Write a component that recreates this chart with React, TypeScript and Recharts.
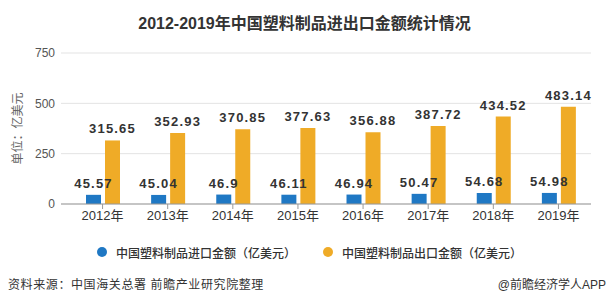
import { BarChart, Bar, XAxis, YAxis, CartesianGrid, LabelList } from 'recharts';

const years = ['2012年', '2013年', '2014年', '2015年', '2016年', '2017年', '2018年', '2019年'];
const importValues = [45.57, 45.04, 46.9, 46.11, 46.94, 50.47, 54.68, 54.98];
const exportValues = [315.65, 352.93, 370.85, 377.63, 356.88, 387.72, 434.52, 483.14];
const yTicks = [0, 250, 500, 750];

const IMPORT_NAME = '中国塑料制品进口金额（亿美元）';
const EXPORT_NAME = '中国塑料制品出口金额（亿美元）';
const BLUE = '#1f78c4';
const ORANGE = '#efab27';
const FONT = '"Liberation Sans", "Noto Sans CJK SC", sans-serif';

const data = years.map((year, i) => ({
  year,
  imp: importValues[i],
  exp: exportValues[i],
}));

function YUnitLabel(props: any) {
  const vb = props.viewBox || {};
  const cx = 18;
  const cy = vb.y + vb.height / 2;
  return (
    <text
      x={cx}
      y={cy}
      transform={`rotate(-90 ${cx} ${cy})`}
      textAnchor="middle"
      dominantBaseline="central"
      fill="#666"
      fontSize={12}
      fontFamily={FONT}
    >
      单位：亿美元
    </text>
  );
}

function LegendRow() {
  const items = [
    { name: IMPORT_NAME, color: BLUE },
    { name: EXPORT_NAME, color: ORANGE },
  ];
  return (
    <div
      style={{
        position: 'absolute',
        top: 243,
        left: 0,
        width: 609,
        display: 'flex',
        justifyContent: 'center',
        gap: 27,
        paddingLeft: 10,
        boxSizing: 'border-box',
      }}
    >
      {items.map((it) => (
        <div key={it.name} style={{ display: 'flex', alignItems: 'center', height: 18 }}>
          <span
            style={{
              width: 10,
              height: 10,
              borderRadius: 5,
              background: it.color,
              display: 'inline-block',
              marginRight: 9,
            }}
          />
          <span style={{ fontSize: 12, color: '#333', fontFamily: FONT, fontWeight: 500 }}>{it.name}</span>
        </div>
      ))}
    </div>
  );
}

const valueLabelStyle = {
  fontSize: 13,
  fontWeight: 700,
  fill: '#333',
  letterSpacing: 1.2,
  fontFamily: FONT,
};

export default function App() {
  return (
    <div
      style={{
        position: 'absolute',
        left: 0,
        top: 0,
        width: 609,
        height: 304,
        background: '#fff',
        fontFamily: FONT,
      }}
    >
      <div
        style={{
          position: 'absolute',
          top: 10,
          left: 0,
          width: 609,
          textAlign: 'center',
          fontSize: 16,
          fontWeight: 700,
          color: '#333',
        }}
      >
        2012-2019年中国塑料制品进出口金额统计情况
      </div>

      <BarChart
        width={609}
        height={304}
        data={data}
        margin={{ top: 53, right: 18, bottom: 70, left: 0 }}
        barSize={15}
        barGap={4}
      >
        <CartesianGrid vertical={false} stroke="#e3e3e3" />
        <XAxis
          dataKey="year"
          height={30}
          padding={{ left: 9, right: 0 }}
          axisLine={{ stroke: '#999' }}
          tickLine={{ stroke: '#999' }}
          tickSize={5}
          tick={{ fontSize: 13, fill: '#333', fontFamily: FONT }}
        />
        <YAxis
          width={61}
          domain={[0, 750]}
          ticks={yTicks}
          axisLine={false}
          tickLine={false}
          tickSize={4}
          tickMargin={2}
          tick={{ fontSize: 12, fill: '#555', fontFamily: FONT }}
          label={<YUnitLabel />}
        />
        <Bar dataKey="imp" name={IMPORT_NAME} fill={BLUE} isAnimationActive={false}>
          <LabelList dataKey="imp" position="top" offset={7} style={valueLabelStyle} />
        </Bar>
        <Bar dataKey="exp" name={EXPORT_NAME} fill={ORANGE} isAnimationActive={false}>
          <LabelList dataKey="exp" position="top" offset={7} style={valueLabelStyle} />
        </Bar>
      </BarChart>

      <LegendRow />

      <div style={{ position: 'absolute', left: 8, top: 275, fontSize: 12, color: '#333', letterSpacing: 0.6 }}>
        资料来源：中国海关总署 前瞻产业研究院整理
      </div>
      <div style={{ position: 'absolute', right: 3, top: 275, fontSize: 12, color: '#333' }}>
        @前瞻经济学人APP
      </div>
    </div>
  );
}
